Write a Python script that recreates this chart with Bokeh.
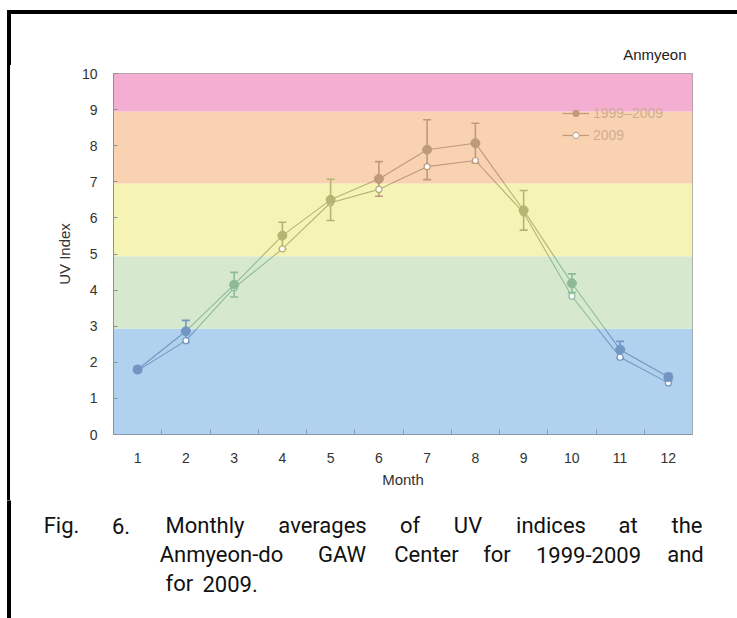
from bokeh.plotting import figure
from bokeh.layouts import column, row
from bokeh.models import (Range1d, FixedTicker, BoxAnnotation, Legend,
                          LegendItem, ColumnDataSource, Spacer)
from bokeh.core.properties import value
from bokeh.embed import file_html
from bokeh.resources import INLINE

# ---------------- data ----------------
months = [1, 2, 3, 4, 5, 6, 7, 8, 9, 10, 11, 12]
month_labels = ["1", "2", "3", "4", "5", "6", "7", "8", "9", "10", "11", "12"]
mean_1999_2009 = [1.80, 2.86, 4.15, 5.51, 6.50, 7.08, 7.89, 8.07, 6.21, 4.19, 2.35, 1.59]
err_1999_2009 = [0.08, 0.30, 0.34, 0.37, 0.57, 0.48, 0.83, 0.55, 0.55, 0.26, 0.23, 0.10]
uv_2009 = [1.77, 2.60, 4.06, 5.14, 6.42, 6.79, 7.42, 7.59, 6.14, 3.83, 2.14, 1.43]
y_ticks = [0, 1, 2, 3, 4, 5, 6, 7, 8, 9, 10]

# UV-index category bands (as drawn)
band_edges = [0, 2.93, 4.94, 6.95, 8.95, 10]
band_fill = ["#B1D2EE", "#D6E8CE", "#F5F4B5", "#F9D3B1", "#F3AED2"]
band_ink = ["#7196C3", "#8DBB98", "#B5B473", "#BE9A7B", "#C48DA8"]

series_names = ["1999\u20132009", "2009"]
station = "Anmyeon"
caption_lines = [
    ["Fig.", "6.", "Monthly", "averages", "of", "UV", "indices", "at", "the"],
    ["Anmyeon-do", "GAW", "Center", "for", "1999-2009", "and"],
    ["for", "2009."],
]

# ---------------- layout (page pixels) ----------------
W, H = 737, 618
TOP_H = 65          # strip holding the page rule and station name
CAP_TOP = 500       # caption panel starts here
FL, FR, FT, FB = 113, 692, 73, 434   # plot frame in page pixels
RULE_L, RULE_R, RULE_T, RULE_B = 7, 10, 10, 13
MAIN_H = CAP_TOP - TOP_H
MAIN_W = W - RULE_R

caption_centers = [
    [61, 120.5, 204.5, 322, 409.5, 467.5, 550.5, 627.5, 686.5],
    [221, 341.5, 426, 496.5, 588, 685],
]
caption_left_last = [165, 202]
caption_y = [525, 554, 583]


def band_of(v):
    for i in range(len(band_edges) - 1):
        if v < band_edges[i + 1]:
            return i
    return len(band_edges) - 2


def split_by_band(xs, ys):
    x0, y0, x1, y1, col = [], [], [], [], []
    for xa, ya, xb, yb in zip(xs, ys, xs[1:], ys[1:]):
        cuts = sorted(b for b in band_edges[1:-1] if min(ya, yb) < b < max(ya, yb))
        if yb < ya:
            cuts = cuts[::-1]
        pts = [(xa, ya)] + [(xa + (xb - xa) * (c - ya) / (yb - ya), c) for c in cuts] + [(xb, yb)]
        for p_, q_ in zip(pts, pts[1:]):
            x0.append(p_[0]); y0.append(p_[1]); x1.append(q_[0]); y1.append(q_[1])
            col.append(band_ink[band_of((p_[1] + q_[1]) / 2)])
    return dict(x0=x0, y0=y0, x1=x1, y1=y1, color=col)


def blank_fig(h, yr):
    f = figure(width=W, height=h, x_range=Range1d(0, W), y_range=Range1d(*yr),
               output_backend="svg", toolbar_location=None, min_border=0,
               x_axis_location=None, y_axis_location=None,
               border_fill_color="white", background_fill_color="white",
               frame_align=False)
    f.xgrid.visible = False
    f.ygrid.visible = False
    f.outline_line_color = None
    return f


# ---------------- top strip: page rules + station name ----------------
top = blank_fig(TOP_H, (TOP_H, 0))
top.quad(left=[RULE_L, RULE_L], right=[W, RULE_R], top=[RULE_T, RULE_T],
         bottom=[RULE_B, TOP_H], color="black")
top.text(x=[686], y=[54], text=[station], text_align="right", text_baseline="middle",
         text_font=value("Liberation Sans"), text_font_size="15px", text_color="#222222")

# ---------------- left rule beside the chart ----------------
gap = Spacer(width=RULE_L, height=MAIN_H)
rule = Spacer(width=RULE_R - RULE_L, height=MAIN_H, styles={"background-color": "black"})
rule_css = ("linear-gradient(to right, transparent 0px, transparent %dpx, black %dpx, "
            "black %dpx, transparent %dpx)" % (RULE_L, RULE_L, RULE_R, RULE_R))

# ---------------- main chart ----------------
p = figure(width=MAIN_W, height=MAIN_H, x_range=Range1d(0.5, 12.5), y_range=Range1d(0, 10),
           output_backend="svg", toolbar_location=None,
           min_border_left=FL - RULE_R, min_border_right=W - FR,
           min_border_top=FT - TOP_H, min_border_bottom=CAP_TOP - FB,
           border_fill_color="white", background_fill_color="white",
           frame_align=False)
p.xgrid.visible = False
p.ygrid.visible = False
p.outline_line_color = "#A0A0A0"
p.outline_line_width = 1

for i in range(len(band_fill)):
    p.add_layout(BoxAnnotation(bottom=band_edges[i], top=band_edges[i + 1],
                               fill_color=band_fill[i], fill_alpha=1.0,
                               line_color=None, level="underlay"))

ax = p.xaxis[0]
ax.ticker = FixedTicker(ticks=months, minor_ticks=[m + 0.5 for m in months[:-1]])
ax.major_label_overrides = {m: l for m, l in zip(months, month_labels)}
ax.major_tick_line_color = None
ax.minor_tick_in = 5
ax.minor_tick_out = 0
ax.minor_tick_line_color = "#8A9BB0"
ax.axis_line_color = "#8A9BB0"
ax.major_label_standoff = 12
ax.major_label_text_font = "Liberation Sans"
ax.major_label_text_font_size = "14px"
ax.major_label_text_color = "#333333"
ax.axis_label = "Month"
ax.axis_label_text_font = "Liberation Sans"
ax.axis_label_text_font_size = "15px"
ax.axis_label_text_font_style = "normal"
ax.axis_label_text_color = "#333333"
ax.axis_label_standoff = 5

ay = p.yaxis[0]
ay.ticker = FixedTicker(ticks=y_ticks, minor_ticks=[])
ay.major_tick_in = 4
ay.major_tick_out = 0
ay.major_tick_line_color = "#909090"
ay.axis_line_color = "#909090"
ay.major_label_standoff = 16
ay.major_label_text_font = "Liberation Sans"
ay.major_label_text_font_size = "14px"
ay.major_label_text_color = "#333333"
ay.axis_label = "UV Index"
ay.axis_label_text_font = "Liberation Sans"
ay.axis_label_text_font_size = "15px"
ay.axis_label_text_font_style = "normal"
ay.axis_label_text_color = "#333333"
ay.axis_label_standoff = 6

# error bars (1999-2009)
eb_col = [band_ink[band_of(v)] for v in mean_1999_2009]
lo = [m - e for m, e in zip(mean_1999_2009, err_1999_2009)]
hi = [m + e for m, e in zip(mean_1999_2009, err_1999_2009)]
eb = ColumnDataSource(dict(x=months, lo=lo, hi=hi, color=eb_col))
p.segment(x0="x", y0="lo", x1="x", y1="hi", line_color="color", line_width=1.6, source=eb)
p.scatter(x="x", y="hi", marker="dash", size=8, line_color="color", line_width=1.6, source=eb)
p.scatter(x="x", y="lo", marker="dash", size=8, line_color="color", line_width=1.6, source=eb)

# lines, coloured by the band they pass through
p.segment(x0="x0", y0="y0", x1="x1", y1="y1", line_color="color", line_width=1.1,
          source=ColumnDataSource(split_by_band(months, uv_2009)))
p.segment(x0="x0", y0="y0", x1="x1", y1="y1", line_color="color", line_width=1.1,
          source=ColumnDataSource(split_by_band(months, mean_1999_2009)))

# markers
p.scatter(x=months, y=uv_2009, marker="circle", size=6, fill_color="white",
          line_color=[band_ink[band_of(v)] for v in uv_2009], line_width=1.2)
p.scatter(x=months, y=mean_1999_2009, marker="circle", size=9,
          fill_color=eb_col, line_color=eb_col)

# legend (legend-only renderers hold a single NaN so nothing shows in the frame)
nan = float("nan")
leg_ink = band_ink[3]
l1 = p.line([nan], [nan], line_color=leg_ink, line_width=1.2)
s1 = p.scatter([nan], [nan], marker="circle", size=9, fill_color=leg_ink, line_color=leg_ink)
l2 = p.line([nan], [nan], line_color=leg_ink, line_width=1.2)
s2 = p.scatter([nan], [nan], marker="circle", size=6, fill_color="white", line_color=leg_ink)
legend = Legend(items=[LegendItem(label=series_names[0], renderers=[l1, s1]),
                       LegendItem(label=series_names[1], renderers=[l2, s2])],
                location=(562 - FL, FB - 143), background_fill_alpha=0,
                border_line_color=None, glyph_width=27, glyph_height=16,
                label_standoff=4, spacing=6, padding=0, margin=0,
                label_text_font="Liberation Sans", label_text_font_size="14px",
                label_text_color="#D2AC92", label_height=16)
p.add_layout(legend)

# ---------------- caption panel ----------------
cap = blank_fig(H - CAP_TOP, (H, CAP_TOP))
cap.quad(left=[RULE_L], right=[RULE_R], top=[CAP_TOP], bottom=[H], color="black")
cap_font = value("Roboto")
cap_size = "22px"
for li in range(2):
    cap.text(x=caption_centers[li], y=[caption_y[li]] * len(caption_lines[li]),
             text=caption_lines[li], text_align="center", text_baseline="alphabetic",
             text_font=cap_font, text_font_size=cap_size, text_color="#111111")
cap.text(x=caption_left_last, y=[caption_y[2]] * len(caption_lines[2]),
         text=caption_lines[2], text_align="left", text_baseline="alphabetic",
         text_font=cap_font, text_font_size=cap_size, text_color="#111111")

layout = column(top, row(gap, rule, p, spacing=0, styles={"background": rule_css}),
                cap, spacing=0)
open("out.html", "w").write(file_html(layout, INLINE))
